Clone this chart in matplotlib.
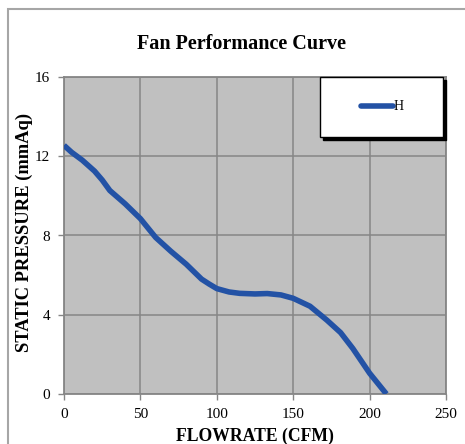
import matplotlib
matplotlib.use("Agg")
import matplotlib.pyplot as plt
from matplotlib.patches import Rectangle
from matplotlib.lines import Line2D

plt.rcParams['font.family'] = ['Liberation Serif', 'DejaVu Serif']

# data
flow = [0, 5, 12, 20, 25, 30, 40, 50, 60, 70, 80, 90, 95, 100, 108, 115,
        125, 133, 142, 150, 161, 172, 181, 189, 200, 211]
pressure = [12.55, 12.2, 11.8, 11.25, 10.8, 10.27, 9.6, 8.85, 7.9, 7.2, 6.55,
            5.8, 5.55, 5.32, 5.15, 5.08, 5.05, 5.07, 5.0, 4.83, 4.43, 3.73,
            3.1, 2.3, 1.05, 0]
series_name = "H"
xticks = [0, 50, 100, 150, 200, 250]
yticks = [0, 4, 8, 12, 16]

blue = '#2352A5'
grid_gray = '#868686'

fig = plt.figure(figsize=(4.65, 4.44), dpi=100)

# outer chart border
fig.patches.append(Rectangle((8 / 465, -0.05), 1.1, 1 - 9 / 444 + 0.05,
                             transform=fig.transFigure, fill=False,
                             ec='#A6A6A6', lw=1.5))

ax = fig.add_axes([64 / 465, 50 / 444, 382 / 465, 317 / 444])
ax.set_facecolor('#C0C0C0')

ax.plot(flow, pressure, color=blue, lw=4, solid_joinstyle='round',
        solid_capstyle='butt', zorder=3, label=series_name)

ax.set_xlim(0, 250)
ax.set_ylim(0, 16)
ax.set_xticks(xticks)
ax.set_yticks(yticks)
ax.grid(True, color=grid_gray, lw=1.1)
ax.set_axisbelow(True)
for s in ax.spines.values():
    s.set_color(grid_gray)
    s.set_linewidth(1.3)
ax.tick_params(direction='out', length=4, width=1, color=grid_gray,
               labelsize=11, pad=6)

ax.set_xlabel("FLOWRATE (CFM)", fontsize=12.7, fontweight='bold', labelpad=5)
ax.set_ylabel("STATIC PRESSURE (mmAq)", fontsize=13.3, fontweight='bold')
ax.yaxis.set_label_coords(-0.082, 0.51)
fig.text(241 / 465, 1 - 44 / 444, "Fan Performance Curve", ha='center',
         va='center', fontsize=14.5, fontweight='bold')

# legend box with black shadow
lx, ly, lw_, lh = 0.670, 0.811, 0.322, 0.19
tr = ax.transAxes
sh = Rectangle((lx + 3 / 382, ly - 3 / 317), lw_, lh, transform=tr,
               fc='black', ec='black', clip_on=False, zorder=5)
box = Rectangle((lx, ly), lw_, lh, transform=tr, fc='white', ec='black',
                lw=1, clip_on=False, zorder=6)
ax.add_patch(sh)
ax.add_patch(box)
ax.add_line(Line2D([0.777, 0.861], [0.908, 0.908], transform=tr, color=blue,
                   lw=4, solid_capstyle='round', clip_on=False, zorder=7))
ax.text(0.862, 0.908, series_name, transform=tr, ha='left', va='center',
        fontsize=10, zorder=7)

fig.savefig("out.png", dpi=100)
